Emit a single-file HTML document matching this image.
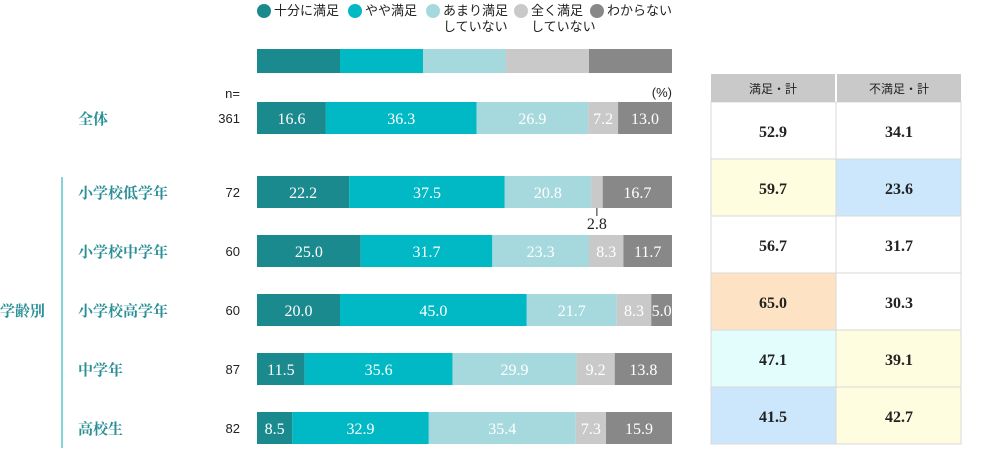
<!DOCTYPE html>
<html><head><meta charset="utf-8"><style>
body{margin:0;background:#fff;width:1000px;height:450px;overflow:hidden}
svg{display:block}
.lab{font-family:"Liberation Serif","Noto Serif CJK SC",serif;font-weight:bold;fill:#2a8f96;font-size:15px}
.n{font-family:"Liberation Sans",sans-serif;font-size:13px;fill:#222}
.v{font-family:"Liberation Serif",serif;font-size:16px;fill:#fff}
.leg{font-family:"Liberation Sans","Noto Sans CJK JP",sans-serif;font-size:13px;fill:#222}
.tv{font-family:"Liberation Serif",serif;font-weight:bold;font-size:16px;fill:#222}
.th{font-family:"Liberation Sans","Noto Sans CJK JP",sans-serif;font-size:12px;fill:#222}
</style></head><body>
<svg id="c" width="1000" height="450"></svg>
<script>
const groups=["全体","小学校低学年","小学校中学年","小学校高学年","中学年","高校生"];
const nValues=[361,72,60,60,87,82];
const s1=[16.6,22.2,25.0,20.0,11.5,8.5];
const s2=[36.3,37.5,31.7,45.0,35.6,32.9];
const s3=[26.9,20.8,23.3,21.7,29.9,35.4];
const s4=[7.2,2.8,8.3,8.3,9.2,7.3];
const s5=[13.0,16.7,11.7,5.0,13.8,15.9];
const satTotal=[52.9,59.7,56.7,65.0,47.1,41.5];
const unsatTotal=[34.1,23.6,31.7,30.3,39.1,42.7];
const seriesNames=["十分に満足","やや満足","あまり満足\nしていない","全く満足\nしていない","わからない"];
const colors=["#1a8a8f","#00b9c4","#a6d9de","#c9c9c9","#888888"];
const satFill=["#ffffff","#fffde0","#ffffff","#fde3c4","#e3fdfd","#cce7fb"];
const unsatFill=["#ffffff","#cce7fb","#ffffff","#ffffff","#fffde0","#fffde0"];
const svg=document.getElementById('c');const NS="http://www.w3.org/2000/svg";
function el(t,a,txt){const e=document.createElementNS(NS,t);for(const k in a)e.setAttribute(k,a[k]);if(txt!==undefined)e.textContent=txt;svg.appendChild(e);return e;}
const X0=257,W=415;const x=v=>X0+v/100*W;
const rowY=[102,176,235,294,353,412];const BH=32;
const lx=[264,355,433,521,597];
seriesNames.forEach((nm,i)=>{
 const c=el('circle',{cx:lx[i],cy:11,r:7,fill:colors[i]});
 
 nm.split("\n").forEach((ln,j)=>{const t=el('text',{x:lx[i]+10,y:15+j*16,class:'leg'},ln);
 });
 const r=el('rect',{x:x(i*20),y:49,width:W/5,height:24,fill:colors[i]});
 
});
let t=el('text',{x:240,y:98,class:'n','text-anchor':'end'},'n=');
t=el('text',{x:672,y:97,class:'n','text-anchor':'end','font-size':'10'},'(%)');
const series=[s1,s2,s3,s4,s5];
groups.forEach((g,r)=>{
 const y=rowY[r],cy=y+BH/2;
 const gl=el('text',{x:78,y:cy+6,class:'lab','font-size':r===0?'19':'16','font-weight':r===0?'normal':'bold'},g);
 const nt=el('text',{x:240,y:cy+5,class:'n','text-anchor':'end'},String(nValues[r]));
 let acc=0;
 series.forEach((s,i)=>{
  const v=s[r];
  const b=el('rect',{x:x(acc),y:y,width:x(acc+v)-x(acc),height:BH,fill:colors[i]});
  
  const mid=(x(acc)+x(acc+v))/2;
  if(v>=4){const vt=el('text',{x:mid,y:cy+6,class:'v','text-anchor':'middle'},v.toFixed(1));}
  else{el('line',{x1:mid,y1:y+BH,x2:mid,y2:y+BH+8,stroke:'#222','stroke-width':1});
   const vt=el('text',{x:mid,y:y+BH+21,class:'v','text-anchor':'middle',style:'fill:#222'},v.toFixed(1));}
  acc+=v;
 });
 const ty=102+r*57;
 const c1=el('rect',{x:711,y:ty,width:125,height:57,fill:satFill[r],stroke:'#d8d8d8'});
 const c2=el('rect',{x:836,y:ty,width:125,height:57,fill:unsatFill[r],stroke:'#d8d8d8'});
 const a=el('text',{x:773,y:ty+35,class:'tv','text-anchor':'middle'},satTotal[r].toFixed(1));
 const b2=el('text',{x:899,y:ty+35,class:'tv','text-anchor':'middle'},unsatTotal[r].toFixed(1));
});
let h=el('rect',{x:711,y:74,width:124,height:28,fill:'#c9c9c9'});
h=el('rect',{x:837,y:74,width:124,height:28,fill:'#c9c9c9'});
t=el('text',{x:773,y:93,class:'th','text-anchor':'middle'},'満足・計');
t=el('text',{x:899,y:93,class:'th','text-anchor':'middle'},'不満足・計');
const ln=el('line',{x1:62,y1:177,x2:62,y2:448,stroke:'#5cc6cf','stroke-width':1.5});
t=el('text',{x:0,y:316,class:'lab','font-size':'16'},'学齢別');
</script>
</body></html>
